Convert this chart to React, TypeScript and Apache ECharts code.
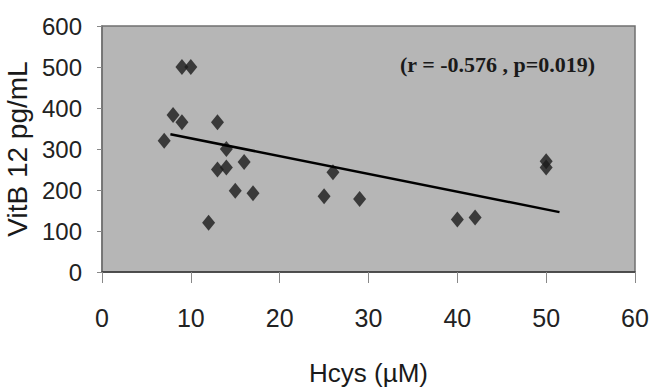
import React, { useEffect, useRef } from "react";
import * as echarts from "echarts";

const hcys = [7, 8, 9, 9, 10, 12, 13, 13, 14, 14, 15, 16, 17, 25, 26, 29, 40, 42, 50, 50];
const vitB12 = [320, 383, 365, 500, 500, 120, 365, 250, 255, 300, 198, 268, 192, 185, 243, 178, 128, 133, 270, 255];
const trendX = [7.7, 51.5];
const trendY = [336, 146];
const xTicks = [0, 10, 20, 30, 40, 50, 60];
const yTicks = [0, 100, 200, 300, 400, 500, 600];
const statText = "(r = -0.576 , p=0.019)";

export default function App() {
  const ref = useRef<HTMLDivElement>(null);
  useEffect(() => {
    if (!ref.current) return;
    const chart = echarts.init(ref.current, undefined, { renderer: "svg" });
    const labelFont = "'Liberation Sans', Arial, sans-serif";
    chart.setOption({
      animation: false,
      backgroundColor: "#ffffff",
      grid: {
        left: 102,
        right: 14,
        top: 26,
        bottom: 117,
        outerBoundsMode: "none",
        containLabel: false,
        show: true,
        backgroundColor: "#b6b6b6",
        borderColor: "#707070",
        borderWidth: 1.5,
      },
      xAxis: {
        type: "value",
        min: xTicks[0],
        max: xTicks[xTicks.length - 1],
        interval: 10,
        name: "Hcys (µM)",
        nameLocation: "middle",
        nameGap: 88,
        nameTextStyle: { fontFamily: labelFont, fontSize: 26, color: "#1a1a1a" },
        axisLine: { show: true, lineStyle: { color: "#3a3a3a", width: 1.5 } },
        axisTick: { show: true, inside: false, length: 11, lineStyle: { color: "#888" } },
        axisLabel: { margin: 33, fontFamily: labelFont, fontSize: 25, color: "#222" },
        splitLine: { show: false },
      },
      yAxis: {
        type: "value",
        min: yTicks[0],
        max: yTicks[yTicks.length - 1],
        interval: 100,
        name: "VitB 12 pg/mL",
        nameLocation: "middle",
        nameRotate: 90,
        nameGap: 68,
        nameTextStyle: { fontFamily: labelFont, fontSize: 28, color: "#1a1a1a" },
        axisLine: { show: true, lineStyle: { color: "#707070", width: 1.5 } },
        axisTick: { show: true, inside: false, length: 5, lineStyle: { color: "#888" } },
        axisLabel: { margin: 20, fontFamily: labelFont, fontSize: 24, color: "#222" },
        splitLine: { show: false },
      },
      series: [
        {
          type: "scatter",
          data: hcys.map((x, i) => [x, vitB12[i]]),
          symbol: "diamond",
          symbolSize: [13, 16],
          itemStyle: { color: "#1c1c1c" },
          z: 3,
        },
        {
          type: "line",
          data: trendX.map((x, i) => [x, trendY[i]]),
          symbol: "none",
          lineStyle: { color: "#000", width: 2.5 },
          z: 4,
        },
      ],
      graphic: [
        {
          type: "text",
          left: 400,
          top: 53,
          style: {
            text: statText,
            font: "bold 22px 'Liberation Serif', 'Times New Roman', serif",
            fill: "#1a1a1a",
          },
        },
      ],
    });
    return () => chart.dispose();
  }, []);
  return <div ref={ref} style={{ width: 649, height: 389, position: "absolute", left: 0, top: 0 }} />;
}
